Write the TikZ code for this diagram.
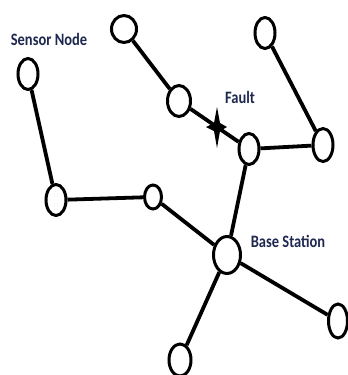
\documentclass[tikz,border=0pt]{standalone}
\usepackage{fontspec}
\setmainfont{Carlito}
\usetikzlibrary{shapes.geometric}
\definecolor{labelblue}{RGB}{30,40,80}
\newcommand{\tall}[1]{\scalebox{1}[1.2]{#1}}
\tikzset{
  sensor/.style={draw, ellipse, line width=3pt, inner sep=0pt,
    minimum width=20pt, minimum height=31pt},
  link/.style={line width=3.8pt},
  lbl/.style={text=labelblue, font=\bfseries\fontsize{14.5}{14.5}\selectfont, inner sep=0pt}
}
\begin{document}
\begin{tikzpicture}[x=1pt, y=-1pt]
  \useasboundingbox (0,0) rectangle (348,375);
  % sensor nodes
  \node[sensor] (a) at (28,74) {};
  \node[sensor, minimum width=25pt, minimum height=27pt] (b) at (124,29) {};
  \node[sensor, minimum width=23pt] (c) at (179,101) {};
  \node[sensor] (d) at (249,149) {};
  \node[sensor] (e) at (265,33) {};
  \node[sensor, minimum height=33pt] (f) at (323,145) {};
  \node[sensor] (g) at (56,200) {};
  \node[sensor, minimum width=17pt, minimum height=24pt] (h) at (153,197) {};
  \node[sensor, minimum width=27pt, minimum height=37pt] (bs) at (227,255) {};
  \node[sensor, minimum width=19pt, minimum height=34pt] (i) at (338,321) {};
  \node[sensor, minimum width=22pt, minimum height=32pt] (j) at (180,360) {};

  % links
  \draw[link] (a) -- (g);
  \draw[link] (g) -- (h);
  \draw[link] (h) -- (bs);
  \draw[link] (b) -- (c);
  \draw[link] (c) -- (d);
  \draw[link] (e) -- (f);
  \draw[link] (d) -- (f);
  \draw[link] (d) -- (bs);
  \draw[link] (bs) -- (i);
  \draw[link] (bs) -- (j);

  % fault mark on the broken link
  \coordinate (fault) at (217,127);
  \fill (fault) ++(0,-20) -- ++(3,16) -- ++(7,4) -- ++(-7,4)
    -- ++(-3,17) -- ++(-3,-17) -- ++(-8,-4) -- ++(8,-4) -- cycle;

  % labels
  \node[lbl] (sensorlbl) at (49,39) {\tall{Sensor Node}};
  \node[lbl] (faultlbl) at (240,97) {\tall{Fault}};
  \node[lbl] (bslbl) at (288,241) {\tall{Base Station}};
\end{tikzpicture}
\end{document}
